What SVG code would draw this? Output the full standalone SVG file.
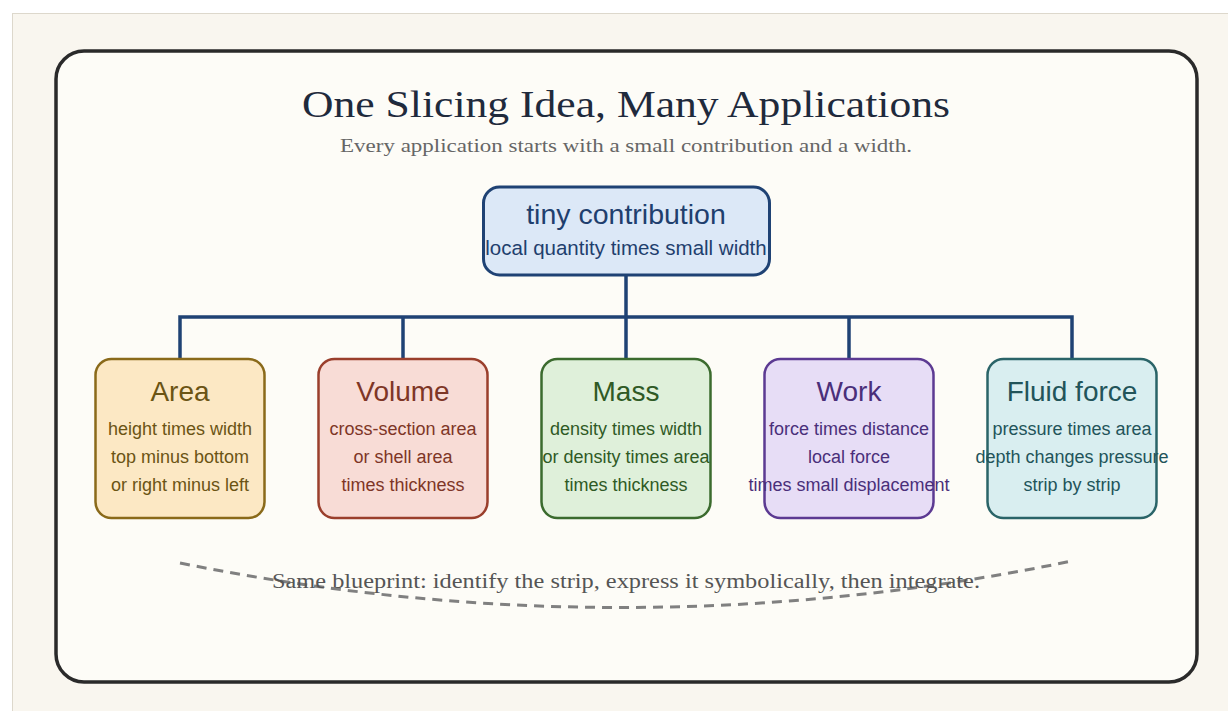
<svg xmlns="http://www.w3.org/2000/svg" width="1228" height="711" viewBox="0 0 1228 711">
  <style>
    .serif { font-family: "Liberation Serif", "DejaVu Serif", serif; }
    .sans { font-family: "Liberation Sans", Arial, sans-serif; text-anchor: middle; }
    .title { font-size: 38px; fill: #1f2a3c; text-anchor: middle; }
    .subtitle { font-size: 19px; fill: #666666; text-anchor: middle; }
    .note { font-size: 20px; fill: #555555; text-anchor: middle; }
    .head { font-size: 28px; }
    .line { font-size: 18px; }
    .link { fill: none; stroke: #1f4274; stroke-width: 3.5; }
    .box { stroke-width: 2.5; }
  </style>

  <!-- page -->
  <rect x="0" y="0" width="1228" height="711" fill="#ffffff"/>
  <rect x="12.5" y="13.5" width="1230" height="710" fill="#f9f6ef" stroke="#ddd8cc" stroke-width="1"/>

  <!-- card -->
  <rect x="56" y="51" width="1141" height="631" rx="28" fill="#fdfcf7" stroke="#2a2a2a" stroke-width="3.5"/>

  <text class="serif title" x="626" y="117" textLength="648" lengthAdjust="spacingAndGlyphs">One Slicing Idea, Many Applications</text>
  <text class="serif subtitle" x="626" y="152" textLength="572" lengthAdjust="spacingAndGlyphs">Every application starts with a small contribution and a width.</text>

  <!-- connectors -->
  <g id="connectors">
    <path class="link" d="M626 275 V317"/>
    <path class="link" d="M180 358 V317 H1072 V358"/>
    <path class="link" d="M403 317 V358"/>
    <path class="link" d="M626 317 V358"/>
    <path class="link" d="M849 317 V358"/>
  </g>

  <!-- root node -->
  <g id="node-tiny-contribution">
    <rect x="483.5" y="187" width="286" height="88" rx="16" fill="#dce8f7" stroke="#1f4274" stroke-width="3"/>
    <text class="sans" x="626" y="224" font-size="28.5" fill="#1f3f6e">tiny contribution</text>
    <text class="sans" x="626" y="255" font-size="20.5" fill="#1f3f6e">local quantity times small width</text>
  </g>

  <g id="node-area">
    <rect class="box" x="95.5" y="359" width="169" height="159" rx="16" fill="#fce8c4" stroke="#8a6a1a"/>
    <text class="sans head" x="180" y="401" fill="#6b5414">Area</text>
    <text class="sans line" x="180" y="435" fill="#6b5414">height times width</text>
    <text class="sans line" x="180" y="463" fill="#6b5414">top minus bottom</text>
    <text class="sans line" x="180" y="491" fill="#6b5414">or right minus left</text>
  </g>

  <g id="node-volume">
    <rect class="box" x="318.5" y="359" width="169" height="159" rx="16" fill="#f8dcd6" stroke="#9a3f2c"/>
    <text class="sans head" x="403" y="401" fill="#7e3626">Volume</text>
    <text class="sans line" x="403" y="435" fill="#7e3626">cross-section area</text>
    <text class="sans line" x="403" y="463" fill="#7e3626">or shell area</text>
    <text class="sans line" x="403" y="491" fill="#7e3626">times thickness</text>
  </g>

  <g id="node-mass">
    <rect class="box" x="541.5" y="359" width="169" height="159" rx="16" fill="#dff0da" stroke="#3b6b2e"/>
    <text class="sans head" x="626" y="401" fill="#2f5a25">Mass</text>
    <text class="sans line" x="626" y="435" fill="#2f5a25">density times width</text>
    <text class="sans line" x="626" y="463" fill="#2f5a25">or density times area</text>
    <text class="sans line" x="626" y="491" fill="#2f5a25">times thickness</text>
  </g>

  <g id="node-work">
    <rect class="box" x="764.5" y="359" width="169" height="159" rx="16" fill="#e7ddf6" stroke="#5c3a92"/>
    <text class="sans head" x="849" y="401" fill="#4a2f7a">Work</text>
    <text class="sans line" x="849" y="435" fill="#4a2f7a">force times distance</text>
    <text class="sans line" x="849" y="463" fill="#4a2f7a">local force</text>
    <text class="sans line" x="849" y="491" fill="#4a2f7a">times small displacement</text>
  </g>

  <g id="node-fluid-force">
    <rect class="box" x="987.5" y="359" width="169" height="159" rx="16" fill="#d9eef0" stroke="#2a6468"/>
    <text class="sans head" x="1072" y="401" fill="#22545a">Fluid force</text>
    <text class="sans line" x="1072" y="435" fill="#22545a">pressure times area</text>
    <text class="sans line" x="1072" y="463" fill="#22545a">depth changes pressure</text>
    <text class="sans line" x="1072" y="491" fill="#22545a">strip by strip</text>
  </g>

  <!-- shared blueprint arc -->
  <path d="M180 563 Q626 653 1072 561" fill="none" stroke="#808080" stroke-width="3" stroke-dasharray="10 7"/>
  <text class="serif note" x="626" y="588" textLength="708" lengthAdjust="spacingAndGlyphs">Same blueprint: identify the strip, express it symbolically, then integrate.</text>
</svg>
